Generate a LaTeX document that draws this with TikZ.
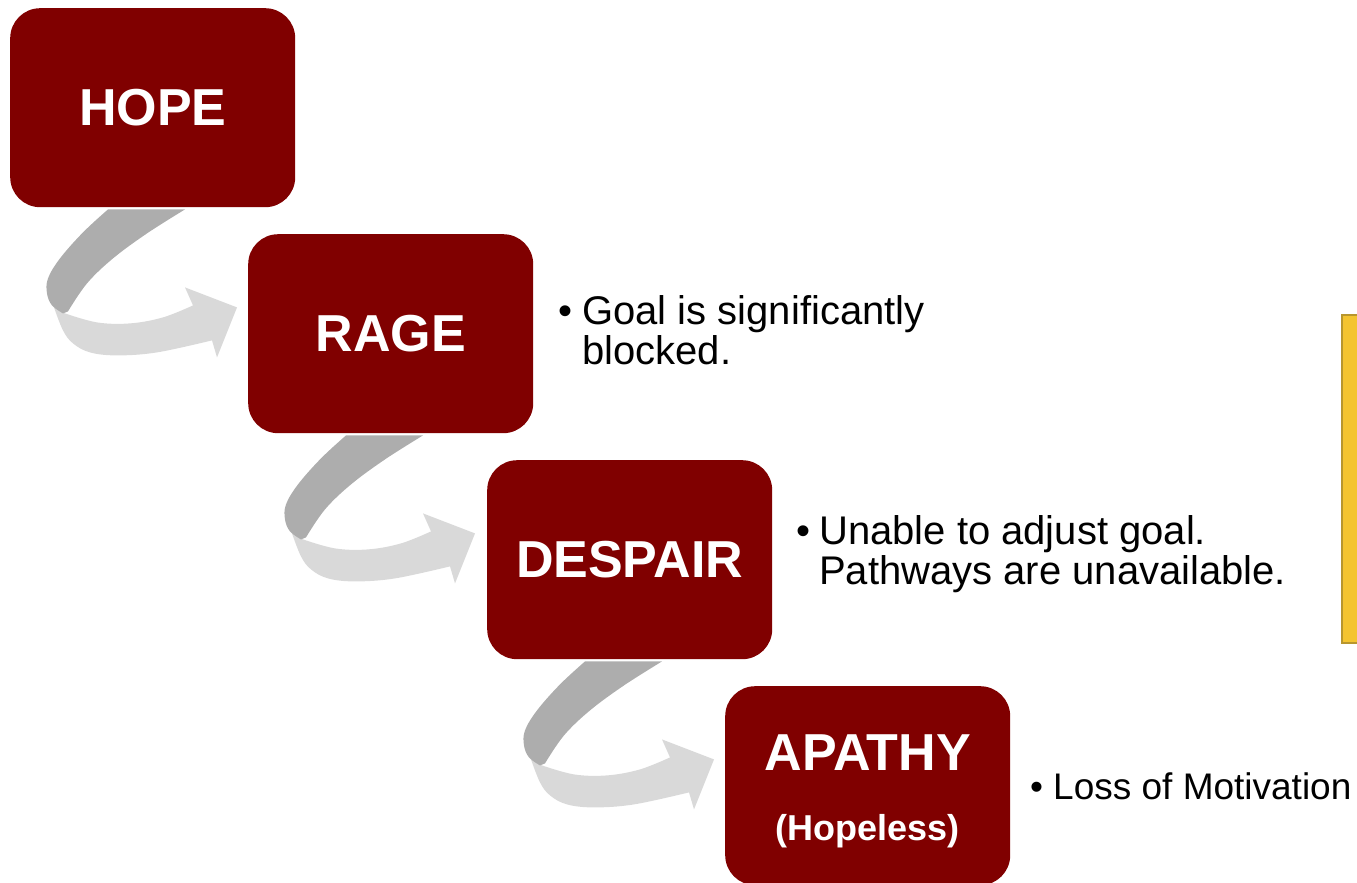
\documentclass[tikz,border=0pt]{standalone}
\usepackage{fontspec}
\setmainfont{Liberation Sans}
\definecolor{boxred}{HTML}{800000}
\definecolor{darkg}{HTML}{ADADAD}
\definecolor{lightg}{HTML}{D9D9D9}
\definecolor{yellowfill}{HTML}{F4C430}
\definecolor{yellowedge}{HTML}{B8962E}
\begin{document}
\begin{tikzpicture}[x=1pt,y=-1pt,
  stagebox/.style={fill=boxred, rounded corners=30pt, minimum width=285pt,
    minimum height=199pt, anchor=north west, inner sep=0pt, text=white,
    font=\bfseries\fontsize{52}{60}\selectfont},
  bullettext/.style={anchor=base west, inner sep=0pt, text=black,
    font=\fontsize{40}{39.5}\selectfont},
  swoosh/.pic={
    \fill[lightg] plot[smooth, tension=0.6] coordinates {(44,100) (53,123) (63,136) (80,145) (107,148) (147,145) (202,133)}
      -- (207,150) -- (227,100) -- (175,80) -- (183,98)
      -- plot[smooth, tension=0.6] coordinates {(183,98) (153,110) (120,116) (87,115) (55,106)} -- cycle;
    \fill[darkg] plot[smooth, tension=0.6] coordinates {(98,2) (73,25) (50,51) (38,71) (37,86) (42,98) (53,106)}
      -- plot[smooth, tension=0.6] coordinates {(58,104) (77,76) (103,51) (137,26) (175,2)} -- cycle;
  }]
\useasboundingbox (0,0) rectangle (1357,883);

\node[stagebox] (hope) at (10,8) {HOPE};
\node[stagebox] (rage) at (248,234) {RAGE};
\node[stagebox] (despair) at (487,460) {DESPAIR};
\node[stagebox, font=\bfseries\fontsize{10}{12}\selectfont] (apathy) at (725,686)
  {\begin{tabular}{@{}c@{}}\rule{0pt}{47pt}\fontsize{52}{52}\selectfont APATHY\\[40pt]\fontsize{36}{36}\selectfont (Hopeless)\end{tabular}};

\pic at (hope.south west) {swoosh};
\pic at (rage.south west) {swoosh};
\pic at (despair.south west) {swoosh};

\node[bullettext] (t1) at (558,324)
  {\begin{tabular}[t]{@{}l@{}l@{}}\makebox[24pt][l]{•}&Goal is significantly\\&blocked.\end{tabular}};
\node[bullettext] (t2) at (796,544)
  {\begin{tabular}[t]{@{}l@{}l@{}}\makebox[23pt][l]{•}&Unable to adjust goal.\\&Pathways are unavailable.\end{tabular}};
\node[bullettext, font=\fontsize{37}{40}\selectfont] (t3) at (1030,799)
  {\makebox[23pt][l]{•}Loss of Motivation};

\node[draw=yellowedge, fill=yellowfill, line width=2pt, minimum width=40pt,
  minimum height=328pt, anchor=north west, inner sep=0pt] (note) at (1341,314) {};
\end{tikzpicture}
\end{document}
